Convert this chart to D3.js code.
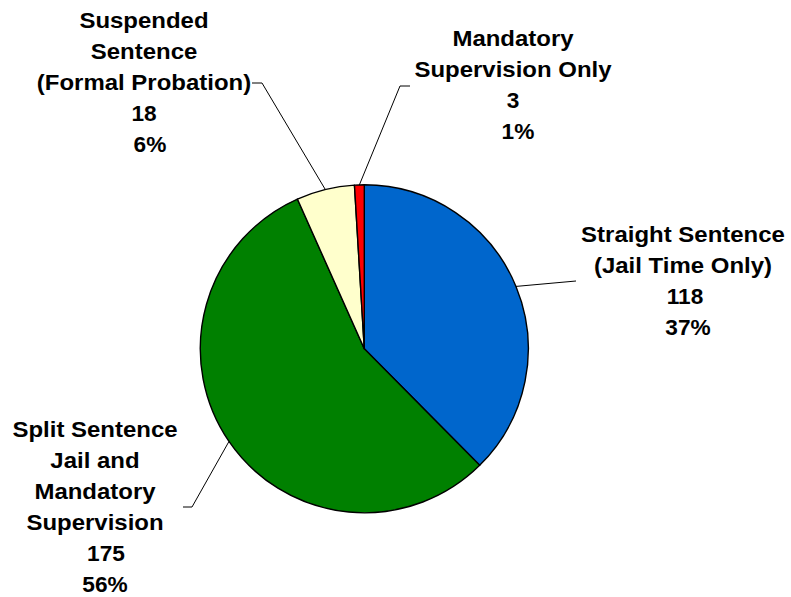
<!DOCTYPE html>
<html>
<head>
<meta charset="utf-8">
<script src="https://cdn.jsdelivr.net/npm/d3@7"></script>
<style>
  html, body { margin: 0; padding: 0; background: #fff; }
  svg { display: block; }
  text { font-family: "Liberation Sans", Arial, sans-serif; font-weight: bold; fill: #000; }
</style>
</head>
<body>
<script>
// ---- data ----
const categories = [
  "Straight Sentence (Jail Time Only)",
  "Split Sentence Jail and Mandatory Supervision",
  "Suspended Sentence (Formal Probation)",
  "Mandatory Supervision Only"
];
const labelLines = [
  ["Straight Sentence", "(Jail Time Only)"],
  ["Split Sentence", "Jail and", "Mandatory", "Supervision"],
  ["Suspended", "Sentence", "(Formal Probation)"],
  ["Mandatory", "Supervision Only"]
];
const counts = [118, 175, 18, 3];
const percentLabels = ["37%", "56%", "6%", "1%"];
const colors = ["#0066CC", "#008000", "#FFFFCC", "#FF0000"];

// ---- layout (positions only) ----
const W = 791, H = 597;
const cx = 364.3, cy = 348.8, R = 164;
const fontSize = 22, stretchWords = 1.09, stretchNums = 1.03, lineH = 31;
const labelLayout = [
  { x: 683, y0: 242, numDx: 2, pctDx: 5, elbow: [[576, 281]] },
  { x: 95, y0: 437, numDx: 11, pctDx: 10, elbow: [[192, 507], [183, 507]] },
  { x: 144, y0: 27.5, numDx: 0, pctDx: 6, elbow: [[262, 83], [252, 83]] },
  { x: 513, y0: 46, numDx: 0, pctDx: 5, elbow: [[400, 86], [410, 86]] }
];

const svg = d3.select("body").append("svg").attr("width", W).attr("height", H);

const pie = d3.pie().sort(null).value(d => d)(counts);
const arc = d3.arc().innerRadius(0).outerRadius(R);

const g = svg.append("g").attr("transform", `translate(${cx},${cy})`);
g.selectAll("path").data(pie).join("path")
  .attr("d", arc)
  .attr("fill", (d, i) => colors[i])
  .attr("stroke", "#000")
  .attr("stroke-width", 1.4)
  .attr("stroke-linejoin", "round");

// leader lines
const line = d3.line();
pie.forEach((d, i) => {
  const a = (d.startAngle + d.endAngle) / 2;
  const p0 = [cx + R * Math.sin(a), cy - R * Math.cos(a)];
  const pts = [p0, ...labelLayout[i].elbow];
  svg.append("path")
    .attr("d", line(pts))
    .attr("fill", "none")
    .attr("stroke", "#000")
    .attr("stroke-width", 1);
});

// labels
categories.forEach((c, i) => {
  const L = labelLayout[i];
  const lines = labelLines[i].map(t => ({ t, dx: 0, s: stretchWords }));
  lines.push({ t: String(counts[i]), dx: L.numDx, s: stretchNums });
  lines.push({ t: percentLabels[i], dx: L.pctDx, s: stretchNums });
  lines.forEach((ln, k) => {
    svg.append("text")
      .attr("transform", `translate(${L.x + ln.dx},${L.y0 + k * lineH}) scale(${ln.s},1)`)
      .attr("text-anchor", "middle")
      .attr("font-size", fontSize)
      .text(ln.t);
  });
});
</script>
</body>
</html>
